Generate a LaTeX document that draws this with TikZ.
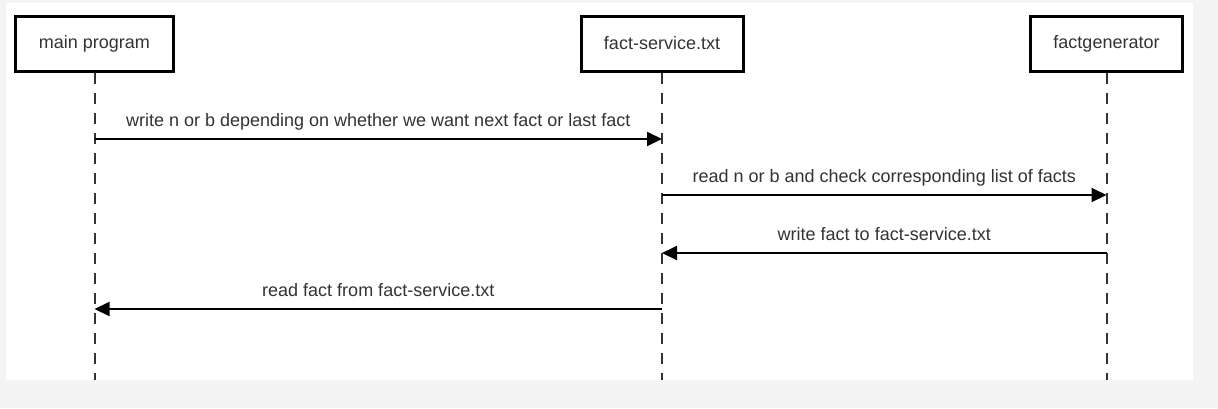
\documentclass[tikz,border=0pt]{standalone}
\usepackage{fontspec}
\setmainfont{Liberation Sans}
\usepackage{xcolor}
\usetikzlibrary{arrows.meta,calc,positioning}
\definecolor{pagegray}{HTML}{F4F4F4}
\definecolor{ink}{HTML}{333333}

\begin{document}
\begin{tikzpicture}[x=1pt,y=-1pt,
	actor/.style={draw=black,line width=3pt,fill=white,minimum height=55pt,inner sep=0pt,font=\fontsize{18}{22}\selectfont,text=ink},
	lifeline/.style={draw=ink,line width=2pt,dash pattern=on 11pt off 9pt},
	msg/.style={draw=black,line width=2pt,-{Triangle[length=15pt,width=14pt]}},
	msglabel/.style={anchor=base,yshift=13pt,font=\fontsize{18}{22}\selectfont,text=ink}]
	\fill[pagegray] (0,0) rectangle (1218,408);
	\fill[white] (6,3) rectangle (1193,380);
	\node[actor,minimum width=158pt] (main) at (94.5,43.5) {main program};
	\node[actor,minimum width=162pt] (service) at (662,43.5) {fact-service.txt};
	\node[actor,minimum width=152pt] (generator) at (1106.5,43.5) {factgenerator};
	\coordinate (main end) at (main.south |- 0,380);
	\coordinate (service end) at (service.south |- 0,380);
	\coordinate (generator end) at (generator.south |- 0,380);
	\draw[lifeline] (main.south) -- (main end);
	\draw[lifeline] (service.south) -- (service end);
	\draw[lifeline] (generator.south) -- (generator end);
	\draw[msg] (main |- 0,139) -- (service |- 0,139) node[msglabel,midway] {write n or b depending on whether we want next fact or last fact};
	\draw[msg] (service |- 0,195) -- (generator |- 0,195) node[msglabel,midway] {read n or b and check corresponding list of facts};
	\draw[msg] (generator |- 0,253) -- (service |- 0,253) node[msglabel,midway] {write fact to fact-service.txt};
	\draw[msg] (service |- 0,309) -- (main |- 0,309) node[msglabel,midway] {read fact from fact-service.txt};
\end{tikzpicture}
\end{document}
